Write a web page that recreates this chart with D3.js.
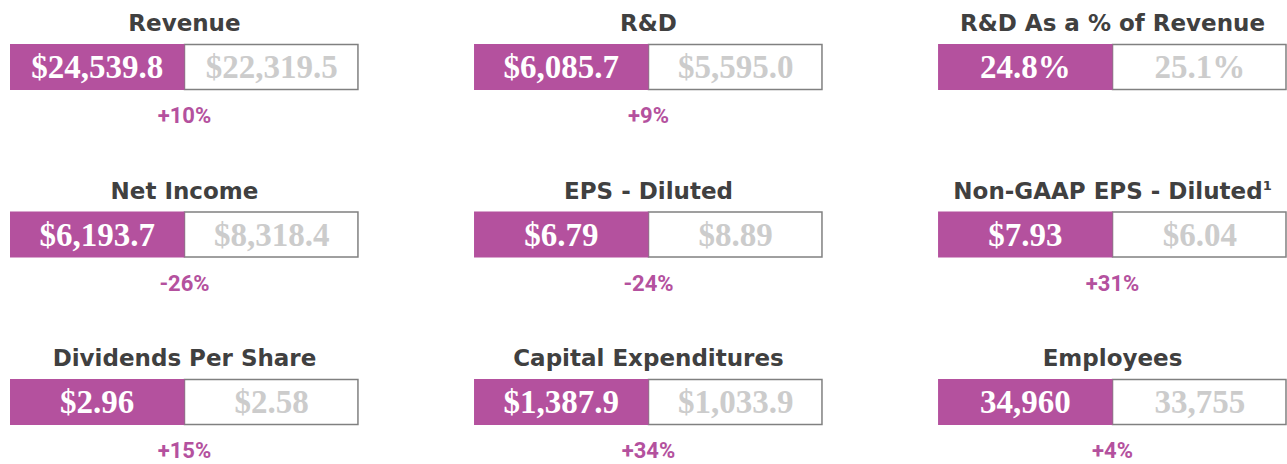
<!DOCTYPE html>
<html>
<meta charset="utf-8">
<title>Financial Highlights</title>
<style>
body {
  margin: 0;
  background: #fff;
}
text.title {
  font-family: "DejaVu Sans", Roboto, sans-serif;
  font-weight: 700;
  font-size: 23px;
  fill: #404040;
}
text.value {
  font-family: "Liberation Serif", "DejaVu Serif", serif;
  font-weight: 700;
  font-size: 33px;
}
text.change {
  font-family: Roboto, "DejaVu Sans", sans-serif;
  font-weight: 700;
  font-size: 22px;
  fill: #b4519e;
}
</style>
<script src="https://d3js.org/d3.v7.min.js"></script>
<body>
<script>
// one entry per tile, read left to right, top to bottom
const titles = ["Revenue", "R&D", "R&D As a % of Revenue",
  "Net Income", "EPS - Diluted", "Non-GAAP EPS - Diluted",
  "Dividends Per Share", "Capital Expenditures", "Employees"];
const footnotes = ["", "", "", "", "", "1", "", "", ""];
const current = [24539.8, 6085.7, 24.8, 6193.7, 6.79, 7.93, 2.96, 1387.9, 34960];
const prior = [22319.5, 5595.0, 25.1, 8318.4, 8.89, 6.04, 2.58, 1033.9, 33755];
const kinds = ["money1", "money1", "pct", "money1", "money2", "money2", "money2", "money1", "count"];
const changes = ["+10%", "+9%", "", "-26%", "-24%", "+31%", "+15%", "+34%", "+4%"];

const width = 1287, height = 464;
const purple = "#b4519e";

const formats = {
  money1: v => "$" + d3.format(",.1f")(v),
  money2: v => "$" + d3.format(".2f")(v),
  pct: v => d3.format(".1f")(v) + "%",
  count: v => d3.format(",")(v),
};

const tiles = titles.map((t, i) => ({
  title: t, note: footnotes[i], now: current[i], before: prior[i],
  kind: kinds[i], change: changes[i], col: i % 3, row: Math.floor(i / 3)
}));

const x = d3.scaleBand()
    .domain([0, 1, 2])
    .range([10, 1287])
    .paddingInner(0.248);

const y = d3.scalePoint()
    .domain([0, 1, 2])
    .range([44, 379]);

const half = d3.scaleBand()
    .domain(["now", "before"])
    .range([0, x.bandwidth()]);

const boxHeight = 46;

const svg = d3.select("body").append("svg")
    .attr("width", width)
    .attr("height", height);

const tile = svg.selectAll("g.tile")
  .data(tiles)
  .join("g")
    .attr("class", "tile")
    .attr("transform", d => "translate(" + x(d.col) + "," + y(d.row) + ")");

tile.append("rect")
    .attr("x", half("before"))
    .attr("y", 0.5)
    .attr("width", half.bandwidth() - 1)
    .attr("height", boxHeight - 1)
    .attr("fill", "#fff")
    .attr("stroke", "#808080")
    .attr("stroke-width", 1.5);

tile.append("rect")
    .attr("x", half("now"))
    .attr("y", 0)
    .attr("width", half.bandwidth())
    .attr("height", boxHeight)
    .attr("fill", purple);

const title = tile.append("text")
    .attr("class", "title")
    .attr("x", x.bandwidth() / 2)
    .attr("y", -13)
    .attr("text-anchor", "middle")
    .text(d => d.title);

title.filter(d => d.note)
  .append("tspan")
    .attr("dy", -9)
    .attr("font-size", 13)
    .text(d => d.note);

tile.append("text")
    .attr("class", "value")
    .attr("x", half("now") + half.bandwidth() / 2)
    .attr("y", boxHeight / 2 + 11)
    .attr("text-anchor", "middle")
    .attr("fill", "#fff")
    .text(d => formats[d.kind](d.now));

tile.append("text")
    .attr("class", "value")
    .attr("x", half("before") + half.bandwidth() / 2)
    .attr("y", boxHeight / 2 + 11)
    .attr("text-anchor", "middle")
    .attr("fill", "#cccccc")
    .text(d => formats[d.kind](d.before));

tile.append("text")
    .attr("class", "change")
    .attr("x", x.bandwidth() / 2)
    .attr("y", boxHeight + 33)
    .attr("text-anchor", "middle")
    .text(d => d.change);
</script>
</body>
</html>
